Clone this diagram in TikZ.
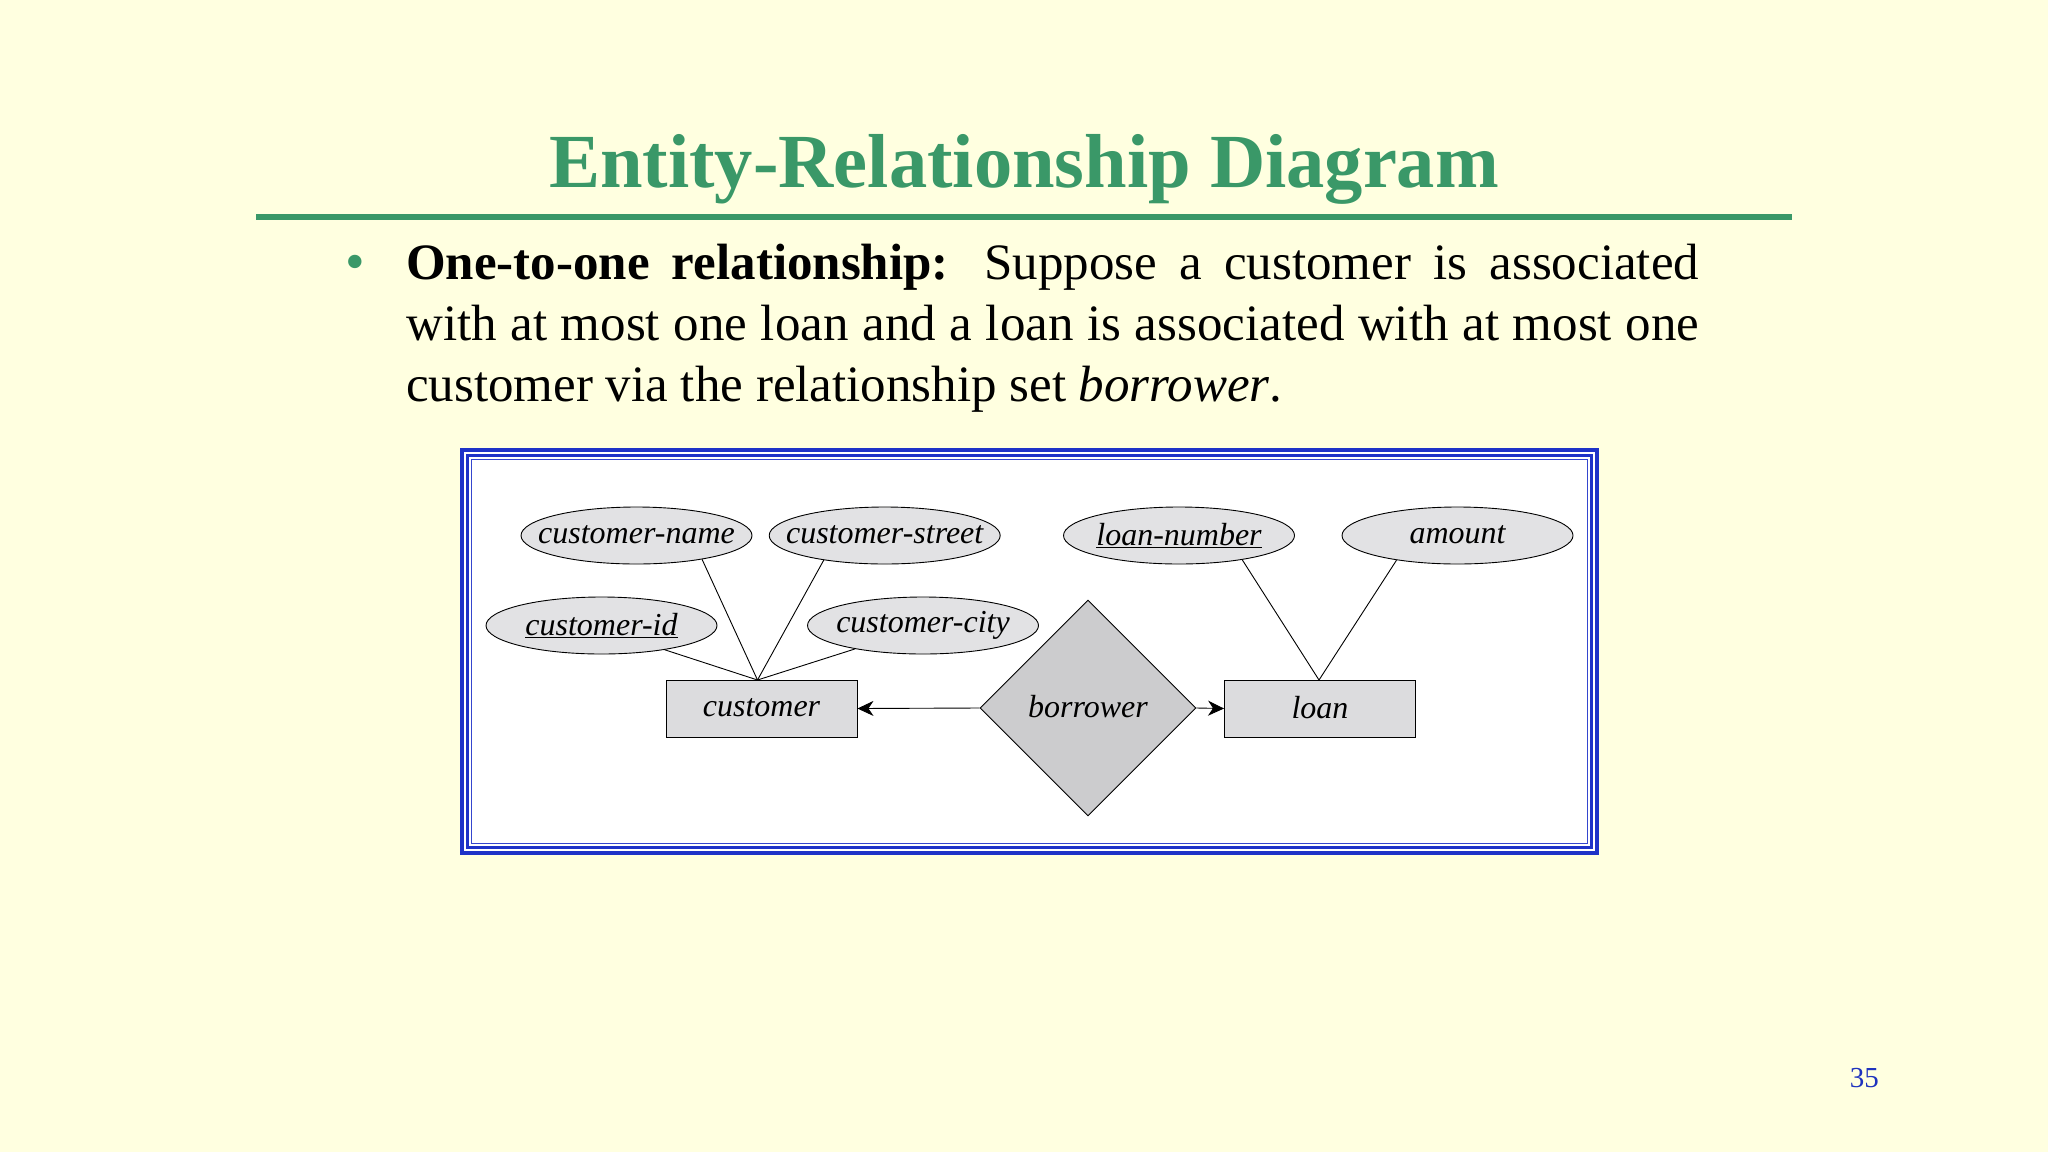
\documentclass[tikz,border=0pt]{standalone}
\usepackage{fontspec}
\setmainfont{Liberation Serif}
\usetikzlibrary{shapes.geometric,arrows.meta}
\definecolor{bgyellow}{RGB}{255,255,224}
\definecolor{titlegreen}{RGB}{58,152,104}
\definecolor{frameblue}{RGB}{30,50,200}
\definecolor{numblue}{RGB}{30,50,190}
\definecolor{attrgray}{RGB}{226,226,228}
\definecolor{entgray}{RGB}{220,220,222}
\definecolor{relgray}{RGB}{204,204,206}
\newcommand{\zlabel}[1]{\makebox[0pt][c]{\raisebox{3pt}{#1}}}
\tikzset{
  attr/.style={ellipse, draw=black, line width=0.9pt, fill=attrgray,
    minimum width=231pt, minimum height=57pt, inner sep=0pt,
    font=\fontsize{32}{36}\selectfont\itshape},
  entity/.style={rectangle, draw=black, line width=0.9pt, fill=entgray,
    minimum width=191pt, minimum height=57pt, inner sep=0pt,
    font=\fontsize{32}{36}\selectfont\itshape},
  rel/.style={diamond, draw=black, line width=0.9pt, fill=relgray,
    minimum width=216pt, minimum height=216pt, inner sep=0pt,
    font=\fontsize{32}{36}\selectfont\itshape},
  link/.style={draw=black, line width=0.9pt},
  arr/.style={draw=black, line width=0.9pt, -{Stealth[length=16pt,width=15pt,inset=5pt]}},
  bodytext/.style={anchor=base west, inner sep=0pt, font=\fontsize{51}{61}\selectfont}
}
\begin{document}
\begin{tikzpicture}[x=1pt,y=-1pt]
  % background
  \fill[bgyellow] (0,0) rectangle (2048,1152);
  \useasboundingbox (0,0) rectangle (2048,1152);

  % title
  \node[anchor=base, inner sep=0pt, text=titlegreen,
        font=\fontsize{76.5}{90}\selectfont\bfseries] (title) at (1024,187) {Entity-Relationship Diagram};
  \fill[titlegreen] (256,214) rectangle (1792,220);

  % bullet text
  \node[anchor=base, inner sep=0pt, text=titlegreen, font=\fontsize{56}{60}\selectfont] (bullet) at (355,280) {•};
  \node[bodytext] (l1) at (406,279) {\makebox[1293pt][s]{\textbf{One-to-one relationship:} Suppose a customer is associated}};
  \node[bodytext] (l2) at (406,340) {\makebox[1293pt][s]{with at most one loan and a loan is associated with at most one}};
  \node[bodytext] (l3) at (406,401) {customer via the relationship set \textit{borrower}.};

  % frame
  \fill[white] (462,450) rectangle (1597,853);
  \draw[frameblue, line width=4pt] (462,450) rectangle (1597,853);
  \draw[frameblue, line width=2.4pt] (467.5,455.5) rectangle (1591.5,847.5);
  \draw[frameblue!90, line width=1.6pt] (471.5,459.5) rectangle (1587.5,843.5);

  % nodes
  \node[attr] (cname) at (636.5,535.5) {\zlabel{customer-name}};
  \node[attr] (cstreet) at (884.7,535.5) {\zlabel{customer-street}};
  \node[attr] (cid) at (601.5,625.5) {\zlabel{\underline{customer-id}}};
  \node[attr] (ccity) at (923,625.5) {\zlabel{customer-city}};
  \node[entity] (cust) at (761.5,708.5) {\zlabel{customer}};
  \node[rel] (borrow) at (1088,708) {\zlabel{borrower}};
  \node[entity] (loan) at (1320,708.5) {\zlabel{loan}};
  \node[attr] (lnum) at (1179,535.5) {\zlabel{\underline{loan-number}}};
  \node[attr] (amt) at (1457.5,535.5) {\zlabel{amount}};

  \coordinate (cjoin) at (757.5,680);
  \coordinate (ljoin) at (1319,680);

  % attribute links
  \draw[link] (cname.-20) -- (cjoin);
  \draw[link] (cstreet.202) -- (cjoin);
  \draw[link] (cid.-21) -- (cjoin);
  \draw[link] (ccity.199) -- (cjoin);
  \draw[link] (lnum.-21.5) -- (ljoin);
  \draw[link] (amt.202.6) -- (ljoin);

  % relationship arrows
  \draw[arr] (borrow.west) -- (cust.east);
  \draw[arr] (borrow.east) -- (loan.west);

  % page number
  \node[anchor=base east, inner sep=0pt, text=numblue, font=\fontsize{29}{34}\selectfont] (pnum) at (1879,1087) {35};
\end{tikzpicture}
\end{document}
